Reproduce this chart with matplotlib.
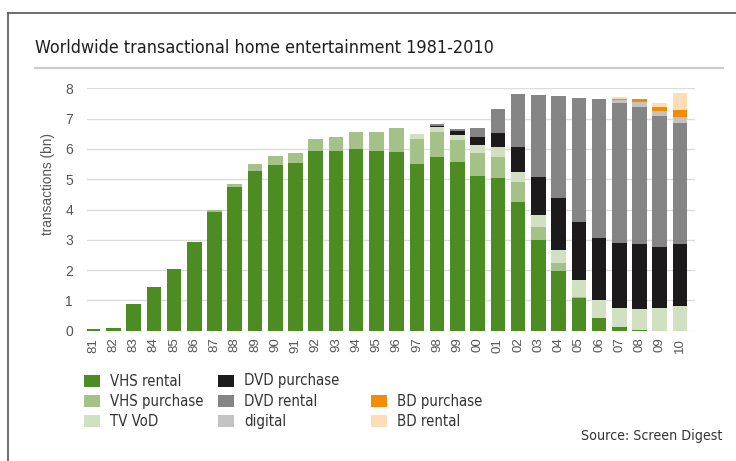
import matplotlib
matplotlib.use("Agg")
import matplotlib.pyplot as plt
import numpy as np
from matplotlib.patches import Rectangle
from matplotlib.lines import Line2D

# years 1981-2010 shown as two-digit labels
years = ["81", "82", "83", "84", "85", "86", "87", "88", "89", "90",
         "91", "92", "93", "94", "95", "96", "97", "98", "99", "00",
         "01", "02", "03", "04", "05", "06", "07", "08", "09", "10"]

# transactions (bn), stacked bottom to top
vhs_rental = [0.05, 0.10, 0.87, 1.45, 2.03, 2.94, 3.93, 4.73, 5.28, 5.46,
              5.52, 5.94, 5.94, 6.00, 5.93, 5.91, 5.50, 5.73, 5.57, 5.10,
              5.03, 4.26, 2.99, 1.97, 1.07, 0.41, 0.11, 0.03, 0.00, 0.00]
vhs_purchase = [0, 0, 0, 0, 0, 0, 0.04, 0.11, 0.21, 0.29,
                0.36, 0.40, 0.46, 0.57, 0.64, 0.79, 0.83, 0.84, 0.72, 0.77,
                0.71, 0.66, 0.44, 0.25, 0.05, 0.02, 0, 0, 0, 0]
tv_vod = [0, 0, 0, 0, 0, 0, 0, 0, 0, 0,
          0, 0, 0, 0, 0, 0, 0.17, 0.16, 0.17, 0.25,
          0.31, 0.33, 0.39, 0.44, 0.55, 0.58, 0.65, 0.69, 0.74, 0.83]
dvd_purchase = [0, 0, 0, 0, 0, 0, 0, 0, 0, 0,
                0, 0, 0, 0, 0, 0, 0, 0.02, 0.12, 0.26,
                0.46, 0.82, 1.26, 1.73, 1.93, 2.04, 2.12, 2.13, 2.03, 2.02]
dvd_rental = [0, 0, 0, 0, 0, 0, 0, 0, 0, 0,
              0, 0, 0, 0, 0, 0, 0, 0.07, 0.07, 0.30,
              0.81, 1.73, 2.70, 3.36, 4.09, 4.60, 4.64, 4.54, 4.32, 3.99]
digital = [0] * 26 + [0.09, 0.16, 0.17, 0.22]
bd_purchase = [0] * 26 + [0.03, 0.09, 0.11, 0.22]
bd_rental = [0] * 26 + [0.06, 0.02, 0.15, 0.55]

series = [
    ("VHS rental", vhs_rental, "#4d8c22"),
    ("VHS purchase", vhs_purchase, "#a4c287"),
    ("TV VoD", tv_vod, "#d0e0c0"),
    ("DVD purchase", dvd_purchase, "#1c1a1b"),
    ("DVD rental", dvd_rental, "#858585"),
    ("digital", digital, "#c3c3c3"),
    ("BD purchase", bd_purchase, "#f28c00"),
    ("BD rental", bd_rental, "#fddcb8"),
]

W, H = 736, 461
fig = plt.figure(figsize=(W / 100, H / 100), dpi=100)
narrow = dict(family="DejaVu Sans", stretch="condensed")
plain = ["Liberation Sans", "DejaVu Sans"]

# outer frame (left and top edges)
fig.add_artist(Line2D([8 / W, 8 / W], [0, 1 - 13 / H], color="#555555", lw=1.2))
fig.add_artist(Line2D([8 / W, 1], [1 - 13 / H, 1 - 13 / H], color="#555555", lw=1.2))

fig.text(35 / W, 1 - 48 / H, "Worldwide transactional home entertainment 1981-2010",
         fontsize=12.9, color="#1e1e1e", va="center", ha="left", **narrow)
fig.add_artist(Line2D([35 / W, 723 / W], [1 - 68 / H, 1 - 68 / H], color="#cccccc", lw=1.6))

ax = fig.add_axes([87 / W, 1 - 330.7 / H, (695 - 87) / W, (330.7 - 88.3) / H])
x = np.arange(len(years))
bottom = np.zeros(len(years))
for name, vals, col in series:
    v = np.array(vals, dtype=float)
    ax.bar(x, v, bottom=bottom, width=0.72, color=col, linewidth=0, zorder=3)
    bottom += v

ax.set_ylim(0, 8)
ax.set_xlim(-0.3, 29.74)
ax.set_yticks(range(9))
ax.set_xticks(x)
ax.set_xticklabels(years, rotation=90, family=plain, fontsize=9.5, color="#555555")
for t in ax.get_yticklabels():
    t.set_family(plain)
    t.set_fontsize(10)
    t.set_color("#555555")
ax.tick_params(length=0)
ax.tick_params(axis="y", pad=10)
ax.tick_params(axis="x", pad=5)
ax.grid(axis="y", color="#dcdcdc", lw=1, zorder=0)
for s in ax.spines.values():
    s.set_visible(False)

fig.text(48 / W, 1 - 184 / H, "transactions (bn)", rotation=90, family=plain,
         fontsize=9.8, color="#555555", ha="center", va="center")

# legend laid out in three columns
cols_x = [84, 218, 371]
rows_y = [381, 401, 421]
slots = [(0, 0), (0, 1), (0, 2), (1, 0), (1, 1), (1, 2), (2, 1), (2, 2)]
for (name, vals, col), (c, r) in zip(series, slots):
    x0 = cols_x[c]
    y0 = rows_y[r]
    fig.add_artist(Rectangle((x0 / W, 1 - (y0 + 6) / H), 16 / W, 12 / H,
                             transform=fig.transFigure, color=col, lw=0))
    fig.text((x0 + 26) / W, 1 - y0 / H, name, fontsize=10.7,
             color="#333333", va="center", ha="left", **narrow)

fig.text(722 / W, 1 - 436 / H, "Source: Screen Digest", fontsize=10.2,
         color="#333333", va="center", ha="right", **narrow)

fig.savefig("out.png", dpi=100, facecolor="white")
